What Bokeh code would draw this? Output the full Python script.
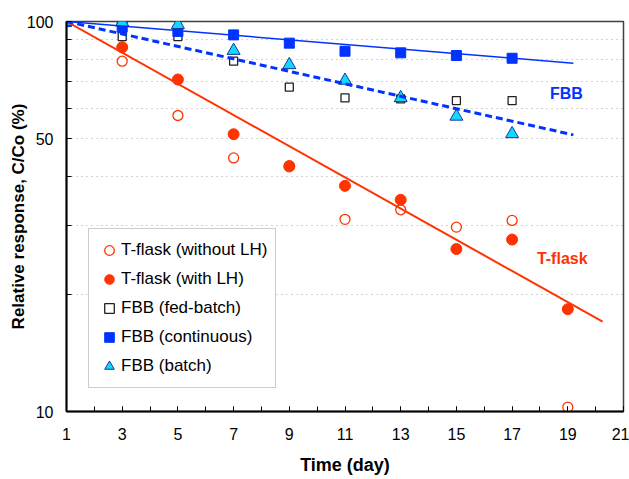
from bokeh.plotting import figure
from bokeh.models import (Range1d, FixedTicker, PrintfTickFormatter, Legend, LegendItem)
from bokeh.core.properties import value
from bokeh.embed import file_html
from bokeh.resources import INLINE

# ---- data ----
days = [1, 3, 5, 7, 9, 11, 13, 15, 17, 19]
tflask_without_lh = [100, 79.1, 57.4, 44.7, 42.7, 31.1, 32.9, 29.7, 30.9, 10.26]
tflask_with_lh = [100, 85.9, 71.0, 51.4, 42.5, 37.9, 34.9, 26.1, 27.6, 18.3]

fbb_days = [1, 3, 5, 7, 9, 11, 13, 15, 17]
fbb_fed_batch = [100, 91.5, 91.5, 79.1, 67.9, 63.7, 63.3, 62.7, 62.7]
fbb_continuous = [100, 96.7, 94.3, 92.4, 88.0, 83.9, 83.1, 81.8, 80.5]
fbb_batch = [100, 99.5, 98.1, 84.2, 77.4, 70.6, 63.7, 57.1, 51.5]

# trend lines (end points)
tflask_fit_x = [1, 20.25]
tflask_fit_y = [100, 17.0]
cont_fit_x = [1, 19.2]
cont_fit_y = [100, 78.2]
fed_fit_x = [1, 19.2]
fed_fit_y = [100, 51.2]

x_major = [1, 3, 5, 7, 9, 11, 13, 15, 17, 19, 21]
x_minor = list(range(1, 22))
y_major = [10, 50, 100]
y_minor = [20, 30, 40, 50, 60, 70, 80, 90]

RED = "#FF3300"
BLUE = "#0033FF"
CYAN = "#10D8FF"
FONT = "Liberation Sans"

p = figure(width=629, height=479, y_axis_type="log",
           x_range=Range1d(1, 21), y_range=Range1d(10, 100),
           output_backend="svg", toolbar_location=None,
           min_border_left=66, min_border_right=6, min_border_top=21, min_border_bottom=68)
p.background_fill_color = "white"
p.border_fill_color = "white"
p.outline_line_color = "#404040"
p.outline_line_width = 1.5

# axes
p.xaxis.ticker = FixedTicker(ticks=x_major, minor_ticks=x_minor)
p.yaxis.ticker = FixedTicker(ticks=y_major, minor_ticks=y_minor)
p.yaxis.formatter = PrintfTickFormatter(format="%d")
for ax in (p.xaxis[0], p.yaxis[0]):
    ax.axis_line_color = "black"
    ax.axis_line_width = 2
    ax.major_tick_in = 5
    ax.major_tick_out = 0
    ax.minor_tick_in = 5
    ax.minor_tick_out = 0
    ax.major_tick_line_color = "black"
    ax.minor_tick_line_color = "black"
    ax.major_label_text_font = FONT
    ax.major_label_text_font_size = "16px"
    ax.major_label_text_color = "black"
    ax.axis_label_text_font = FONT
    ax.axis_label_text_font_style = "bold"
    ax.axis_label_text_color = "black"
p.xaxis.axis_label = "Time (day)"
p.xaxis.axis_label_text_font_size = "18px"
p.xaxis.major_label_standoff = 16
p.xaxis.axis_label_standoff = 12
p.yaxis.axis_label = "Relative response, C/Co (%)"
p.yaxis.axis_label_text_font_size = "17px"
p.yaxis.major_label_standoff = 13
p.yaxis.axis_label_standoff = -4

p.xgrid.visible = False
p.ygrid.ticker = FixedTicker(ticks=y_minor)
p.ygrid.grid_line_color = "#A8A8A8"
p.ygrid.grid_line_dash = "1 4"
p.ygrid.grid_line_width = 1.2

# markers
r1 = p.scatter(days, tflask_without_lh, marker="circle", size=10,
               fill_color="white", line_color=RED, line_width=1.3)
r2 = p.scatter(days, tflask_with_lh, marker="circle", size=11,
               fill_color=RED, line_color=RED)
r3 = p.scatter(fbb_days, fbb_fed_batch, marker="square", size=8,
               fill_color="white", line_color="#222222", line_width=1.3)
r4 = p.scatter(fbb_days, fbb_continuous, marker="square", size=10,
               fill_color=BLUE, line_color=BLUE)
r5 = p.scatter(fbb_days, fbb_batch, marker="triangle", size=13,
               fill_color=CYAN, line_color="#1A3399", line_width=1)

# trend lines
p.line(tflask_fit_x, tflask_fit_y, line_color=RED, line_width=2)
p.line(cont_fit_x, cont_fit_y, line_color=BLUE, line_width=1.5)
p.line(fed_fit_x, fed_fit_y, line_color=BLUE, line_width=3, line_dash="7 4")

# annotations
p.text(x=[18.95], y=[65.4], text=["FBB"], text_color=BLUE,
       text_font=value(FONT), text_font_style="bold", text_font_size="16px",
       text_align="center", text_baseline="middle")
p.text(x=[18.8], y=[24.7], text=["T-flask"], text_color=RED,
       text_font=value(FONT), text_font_style="bold", text_font_size="16px",
       text_align="center", text_baseline="middle")

legend = Legend(items=[
    LegendItem(label="T-flask (without LH)", renderers=[r1]),
    LegendItem(label="T-flask (with LH)", renderers=[r2]),
    LegendItem(label="FBB (fed-batch)", renderers=[r3]),
    LegendItem(label="FBB (continuous)", renderers=[r4]),
    LegendItem(label="FBB (batch)", renderers=[r5]),
], location=(22, 23))
legend.label_text_font = FONT
legend.label_text_font_size = "17px"
legend.label_text_color = "black"
legend.glyph_width = 24
legend.glyph_height = 26
legend.label_standoff = 0
legend.spacing = 3
legend.padding = 8
legend.margin = 0
legend.border_line_color = "#999999"
legend.border_line_width = 1
legend.background_fill_color = "white"
legend.background_fill_alpha = 1
p.add_layout(legend, "center")

open("out.html", "w").write(file_html(p, INLINE))
